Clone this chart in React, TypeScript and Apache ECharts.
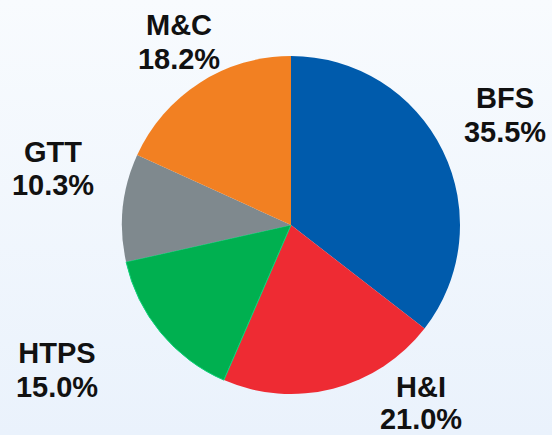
import React, { useEffect, useRef } from "react";
import * as echarts from "echarts";

const categories = ["BFS", "H&I", "HTPS", "GTT", "M&C"];
const shares = [35.5, 21.0, 15.0, 10.3, 18.2];
const sliceColors = ["#005BAC", "#EE2B33", "#00B050", "#7F898E", "#F28022"];

// label block centres and line heights (layout, not data)
const labelCenters: [number, number][] = [
  [505, 115],
  [421, 403],
  [57, 370],
  [53, 168],
  [179, 42],
];
const labelLineHeights = [34, 32, 34, 33, 34];

export default function App() {
  const ref = useRef<HTMLDivElement>(null);
  useEffect(() => {
    if (!ref.current) return;
    const chart = echarts.init(ref.current, undefined, { renderer: "svg" });
    chart.setOption({
      animation: false,
      backgroundColor: new echarts.graphic.LinearGradient(0, 0, 0, 1, [
        { offset: 0, color: "#F8FBFE" },
        { offset: 1, color: "#EAF2FC" },
      ]),
      series: [
        {
          type: "pie",
          center: [291, 225],
          radius: 169,
          startAngle: 90,
          clockwise: true,
          silent: true,
          data: categories.map((name, i) => ({
            name,
            value: shares[i],
            label: { lineHeight: labelLineHeights[i] },
            itemStyle:
              i === 2
                ? { color: sliceColors[i], borderColor: "#10D07A", borderWidth: 1 }
                : { color: sliceColors[i], borderWidth: 0 },
          })),
          label: {
            show: true,
            position: "inside",
            overflow: "none",
            formatter: (p: any) => `${p.name}\n${Number(p.value).toFixed(1)}%`,
            fontFamily: "Liberation Sans, Arial, sans-serif",
            fontWeight: "bold",
            fontSize: 29,
            lineHeight: 34,
            color: "#111111",
            align: "center",
          },
          labelLine: { show: false },
          labelLayout: (params: any) => {
            const c = labelCenters[params.dataIndex];
            return { x: c[0], y: c[1], align: "center", verticalAlign: "middle" };
          },
        },
      ],
    });
    return () => chart.dispose();
  }, []);
  return (
    <div
      ref={ref}
      style={{ position: "fixed", left: 0, top: 0, width: 552, height: 435 }}
    />
  );
}
